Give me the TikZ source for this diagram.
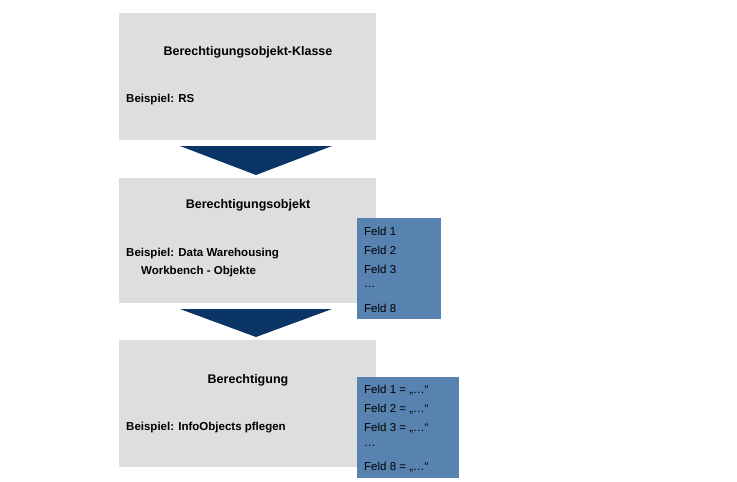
\documentclass[tikz,border=0pt]{standalone}
\usepackage{fontspec}
\setmainfont{Liberation Sans}
\begin{document}
\begin{tikzpicture}[x=1pt,y=-1pt,
  grey/.style={fill=black!13,draw=none},
  blue/.style={fill=blueb,draw=none},
  arr/.style={fill=navy,draw=none},
  ttl/.style={font=\fontsize{12.5}{14}\selectfont\bfseries,inner sep=0},
  lbl/.style={font=\fontsize{11.5}{14}\selectfont\bfseries,anchor=west,inner sep=0},
  fld/.style={font=\fontsize{11.5}{14}\selectfont,anchor=west,inner sep=0}]
\definecolor{blueb}{HTML}{5882B0}
\definecolor{navy}{HTML}{0A3566}
\useasboundingbox (0,0) rectangle (737,482);
\path[grey] (119,13) rectangle (376,140);
\path[grey] (119,178) rectangle (376,303);
\path[grey] (119,340) rectangle (376,467);
\path[arr] (180,146) -- (332,146) -- (256,175) -- cycle;
\path[arr] (180,309) -- (332,309) -- (256,337) -- cycle;
\path[blue] (357,218) rectangle (441,319);
\path[blue] (357,377) rectangle (459,478);
\node[ttl] (t1) at (248,52) {Berechtigungsobjekt-Klasse};
\node[lbl] (b1) at (126,100) {Beispiel: RS};
\node[ttl] (t2) at (248,205) {Berechtigungsobjekt};
\node[lbl] (b2) at (126,254) {Beispiel: Data Warehousing};
\node[lbl] (b2b) at (141,272) {Workbench - Objekte};
\node[ttl] (t3) at (248,380) {Berechtigung};
\node[lbl] (b3) at (126,428) {Beispiel: InfoObjects pflegen};
\node[fld] (f1) at (364,231) {Feld 1};
\node[fld] (f2) at (364,250) {Feld 2};
\node[fld] (f3) at (364,269) {Feld 3};
\node[fld] (f4) at (364,287) {…};
\node[fld] (f8) at (364,308) {Feld 8};
\node[fld] (g1) at (364,390) {Feld 1 = „…“};
\node[fld] (g2) at (364,409) {Feld 2 = „…“};
\node[fld] (g3) at (364,428) {Feld 3 = „…“};
\node[fld] (g4) at (364,446) {…};
\node[fld] (g8) at (364,467) {Feld 8 = „…“};
\end{tikzpicture}
\end{document}
